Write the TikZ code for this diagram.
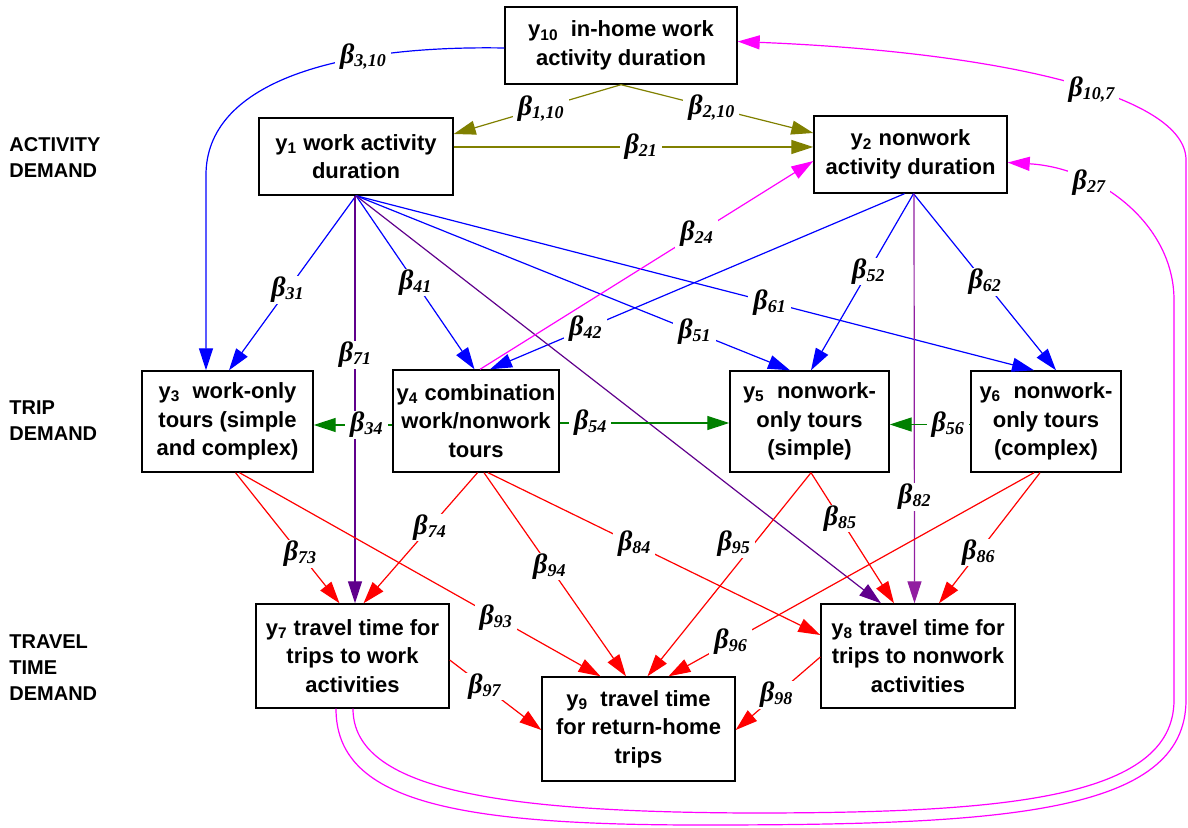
\documentclass[tikz,border=0pt]{standalone}
\usepackage{fontspec}
\setmainfont{Liberation Sans}
\newfontfamily\betafont{Liberation Serif}
\usetikzlibrary{arrows.meta,calc}

\definecolor{olivegreen}{RGB}{128,128,0}
\definecolor{darkgreen}{RGB}{0,128,0}
\definecolor{darkpurple}{RGB}{96,0,140}
\definecolor{midpurple}{RGB}{145,30,160}
\definecolor{brightmagenta}{RGB}{255,0,255}

\newcommand{\bcoef}[1]{β\raisebox{-1.5pt}{\fontsize{9}{9}\selectfont #1}}

\begin{document}
\begin{tikzpicture}[
            x=0.5pt,
            y=-0.5pt,
            box/.style={
                rectangle,
                draw=black,
                line width=0.7pt,
                align=center,
                inner sep=1pt,
                font=\bfseries\fontsize{11}{14.3}\selectfont
            },
            side/.style={
                anchor=west,
                align=left,
                inner sep=0pt,
                font=\bfseries\fontsize{10}{13}\selectfont
            },
            lab/.style={
                fill=white,
                text=black,
                inner xsep=2.5pt,
                inner ysep=0.5pt,
                font=\betafont\bfseries\itshape\fontsize{14}{14}\selectfont
            },
            arrow/.style={
                line width=0.6pt,
                -{Triangle[length=11pt,width=7pt]}
            }
        ]
            \useasboundingbox (0,0) rectangle (1188,828);

            % Define nodes
            \node[side] (actdem) at (9,157.5) {ACTIVITY\\DEMAND};
            \node[side] (tripdem) at (9,421) {TRIP\\DEMAND};
            \node[side] (traveldem) at (9,668) {TRAVEL\\TIME\\DEMAND};

            \node[box, minimum width=116pt, minimum height=38.5pt] (y10) at (621,45.5) {y\textsubscript{10}\ \ in-home work\\activity duration};
            \node[box, minimum width=97pt, minimum height=38.5pt] (y1) at (356,156.5) {y\textsubscript{1} work activity\\duration};
            \node[box, minimum width=96.5pt, minimum height=38.5pt] (y2) at (910.5,154.5) {y\textsubscript{2} nonwork\\activity duration};
            \node[box, minimum width=85.5pt, minimum height=50.5pt] (y3) at (227.5,421.5) {y\textsubscript{3}\ \ work-only\\tours (simple\\and complex)};
            \node[box, minimum width=83pt, minimum height=51pt] (y4) at (476,421) {y\textsubscript{4} combination\\work/nonwork\\tours};
            \node[box, minimum width=79.5pt, minimum height=50.5pt] (y5) at (809.5,421.5) {y\textsubscript{5}\ \ nonwork-\\only tours\\(simple)};
            \node[box, minimum width=75pt, minimum height=50.5pt] (y6) at (1046,421.5) {y\textsubscript{6}\ \ nonwork-\\only tours\\(complex)};
            \node[box, minimum width=96.5pt, minimum height=52pt] (y7) at (352.5,656) {y\textsubscript{7} travel time for\\trips to work\\activities};
            \node[box, minimum width=97pt, minimum height=52pt] (y8) at (918,656) {y\textsubscript{8} travel time for\\trips to nonwork\\activities};
            \node[box, minimum width=96.5pt, minimum height=52pt] (y9) at (638.5,729) {y\textsubscript{9}\ \ travel time\\for return-home\\trips};

            % Draw edges
            \draw[arrow, blue] ($(y10.west)+(0,2.5)$) .. controls (330,45) and (206,85) .. node[lab,pos=0.3]{\bcoef{3,10}} (206,175) -- ($(y3.north)+(-21.5,0)$);
            \draw[arrow, blue] (y1.south) -- node[lab,pos=0.54]{\bcoef{31}} ($(y3.north)+(1.5,0)$);
            \draw[arrow, blue] (y1.south) -- node[lab,pos=0.5]{\bcoef{41}} ($(y4.north)+(-1.5,0)$);
            \draw[arrow, blue] (y1.south) -- node[lab,pos=0.78]{\bcoef{51}} ($(y5.north)+(-19.5,0)$);
            \draw[arrow, blue] (y1.south) -- node[lab,pos=0.61]{\bcoef{61}} ($(y6.north)+(-12,0)$);
            \draw[arrow, blue] ($(y2.south)+(-6,0)$) -- node[lab,pos=0.77]{\bcoef{42}} ($(y4.north)+(14,0)$);
            \draw[arrow, blue] ($(y2.south)+(3,0)$) -- node[lab,pos=0.44]{\bcoef{52}} ($(y5.north)+(1.5,0)$);
            \draw[arrow, blue] ($(y2.south)+(3,0)$) -- node[lab,pos=0.5]{\bcoef{62}} ($(y6.north)+(10,0)$);

            \draw[arrow, olivegreen] (y10.south) -- node[lab,pos=0.48]{\bcoef{1,10}} ($(y1.east)+(0,-22.5)$);
            \draw[arrow, olivegreen] (y10.south) -- node[lab,pos=0.47]{\bcoef{2,10}} ($(y2.west)+(0,-21.5)$);
            \draw[arrow, olivegreen] ($(y1.east)+(0,-9.5)$) -- node[lab,pos=0.52]{\bcoef{21}} ($(y2.west)+(0,-7.5)$);

            \draw[arrow, darkpurple] ($(y1.south)+(-1,0)$) -- node[lab,pos=0.39]{\bcoef{71}} ($(y7.north)+(2.5,0)$);
            \draw[arrow, darkpurple] (y1.south) -- ($(y8.north)+(-37,0)$);
            \draw[arrow, midpurple] ($(y2.south)+(3.5,0)$) -- node[lab,pos=0.74]{\bcoef{82}} ($(y8.north)+(-3.5,0)$);

            \draw[arrow, brightmagenta] ($(y4.north)+(4,0)$) -- node[lab,pos=0.65]{\bcoef{24}} ($(y2.west)+(0,6.5)$);
            \draw[arrow, brightmagenta] ($(y7.south)+(-16.5,0)$) .. controls (336,800) and (450,825) .. (700,825) .. controls (1000,825) and (1186,815) .. (1186,700) -- (1186,160) .. controls (1186,95) and (1000,52) .. node[lab,pos=0.43]{\bcoef{10,7}} ($(y10.east)+(0,-4)$);
            \draw[arrow, brightmagenta] ($(y7.south)+(0.5,0)$) .. controls (353,790) and (500,812) .. (750,813) .. controls (1000,813) and (1174,800) .. (1174,700) -- (1174,300) .. controls (1174,225) and (1100,168) .. node[lab,pos=0.68]{\bcoef{27}} ($(y2.east)+(0,8)$);

            \draw[arrow, darkgreen] ($(y4.west)+(0,4)$) -- node[lab,pos=0.33]{\bcoef{34}} ($(y3.east)+(0,3.5)$);
            \draw[arrow, darkgreen] ($(y4.east)+(0,2)$) -- node[lab,pos=0.18]{\bcoef{54}} ($(y5.west)+(0,1.5)$);
            \draw[arrow, darkgreen] ($(y6.west)+(0,3)$) -- node[lab,pos=0.28]{\bcoef{56}} ($(y5.east)+(0,3)$);

            \draw[arrow, red] ($(y3.south)+(8,0)$) -- node[lab,pos=0.62]{\bcoef{73}} ($(y7.north)+(-13,0)$);
            \draw[arrow, red] ($(y3.south)+(12,0)$) -- node[lab,pos=0.71]{\bcoef{93}} ($(y9.north)+(-38,0)$);
            \draw[arrow, red] ($(y4.south)+(1.5,0)$) -- node[lab,pos=0.42]{\bcoef{74}} ($(y7.north)+(11,0)$);
            \draw[arrow, red] ($(y4.south)+(8,0)$) -- node[lab,pos=0.46]{\bcoef{94}} ($(y9.north)+(-12.5,0)$);
            \draw[arrow, red] ($(y4.south)+(12,0)$) -- node[lab,pos=0.44]{\bcoef{84}} ($(y8.west)+(0,-21)$);
            \draw[arrow, red] ($(y5.south)+(1.5,0)$) -- node[lab,pos=0.35,xshift=-10pt]{\bcoef{95}} ($(y9.north)+(9,0)$);
            \draw[arrow, red] ($(y5.south)+(1.5,0)$) -- node[lab,pos=0.35]{\bcoef{85}} ($(y8.north)+(-24,0)$);
            \draw[arrow, red] ($(y6.south)+(-12,0)$) -- node[lab,pos=0.83]{\bcoef{96}} ($(y9.north)+(30,0)$);
            \draw[arrow, red] ($(y6.south)+(-6,0)$) -- node[lab,pos=0.61]{\bcoef{86}} ($(y8.north)+(21,0)$);
            \draw[arrow, red] ($(y7.east)+(0,4)$) -- node[lab,pos=0.38]{\bcoef{97}} ($(y9.west)+(0,1)$);
            \draw[arrow, red] ($(y8.west)+(0,1)$) -- node[lab,pos=0.52]{\bcoef{98}} ($(y9.east)+(0,1)$);
        \end{tikzpicture}
\end{document}
